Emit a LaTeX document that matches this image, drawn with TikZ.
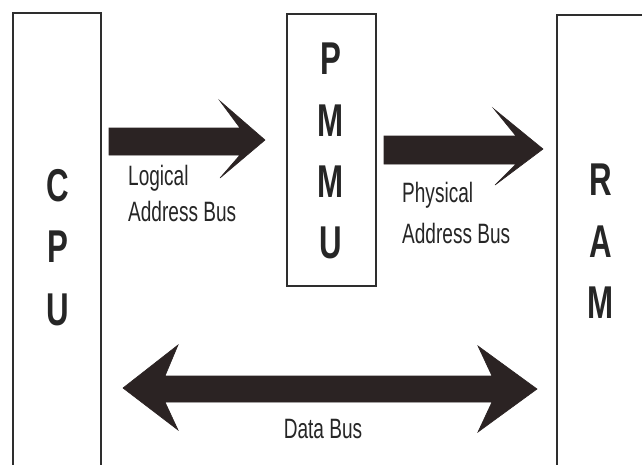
\documentclass[tikz,border=0pt]{standalone}
\usepackage{fontspec}
\setmainfont{Liberation Sans}[FakeStretch=0.68]
\definecolor{boxc}{HTML}{2E2E2E}
\definecolor{arrc}{HTML}{2B2323}
\definecolor{txtc}{HTML}{262626}
\begin{document}
\begin{tikzpicture}[x=1pt,y=-1pt,
  box/.style={draw=boxc, line width=1.8pt, inner sep=0pt, outer sep=0pt, anchor=north west},
  big/.style={font=\fontsize{46}{46}\selectfont\bfseries, text=txtc, anchor=base, inner sep=0pt},
  lbl/.style={font=\fontsize{28}{36}\selectfont, text=txtc, anchor=base west, inner sep=0pt, align=left},
  busarrow/.style={fill=arrc, draw=arrc, line width=0.6pt, line join=miter}]
\useasboundingbox (0,0) rectangle (642,464);
\fill[white] (0,0) rectangle (642,464);
\begin{scope}
\clip (0,0) rectangle (642,464);
% boxes
\node[box, minimum width=88pt, minimum height=470pt] (cpu) at (13,13) {};
\node[box, minimum width=89pt, minimum height=272pt] (pmmu) at (287,14) {};
\node[box, minimum width=100pt, minimum height=470pt] (ram) at (557,15) {};
% letters
\node[big] (c1) at (58,201) {C};
\node[big] (c2) at (58,262) {P};
\node[big] (c3) at (58,325) {U};
\node[big] (p1) at (331,74) {P};
\node[big] (p2) at (331,136) {M};
\node[big] (p3) at (331,197) {M};
\node[big] (p4) at (331,258) {U};
\node[big] (r1) at (601,195) {R};
\node[big] (r2) at (601,257) {A};
\node[big] (r3) at (601,318) {M};
% logical address bus arrow
\fill[busarrow] (109,128) -- (240,128) -- (220,101) -- (265,140) -- (220,178) -- (240,155) -- (109,155) -- cycle;
% physical address bus arrow
\fill[busarrow] (384,136) -- (516,136) -- (494,109) -- (543,149) -- (495,185) -- (516,164) -- (384,164) -- cycle;
% data bus arrow
\fill[busarrow] (123,388) -- (178,345) -- (165,376) -- (492,376) -- (478,346) -- (537,389) -- (478,432) -- (492,402) -- (165,402) -- (178,430) -- cycle;
% labels (base anchor = baseline of the last line)
\node[lbl] (logical) at (128,221) {Logical\\Address Bus};
\node[lbl, font=\fontsize{28}{41}\selectfont] (physical) at (402,243) {Physical\\Address Bus};
\node[lbl, anchor=base] (data) at (323,438) {Data Bus};
\end{scope}
\end{tikzpicture}
\end{document}
